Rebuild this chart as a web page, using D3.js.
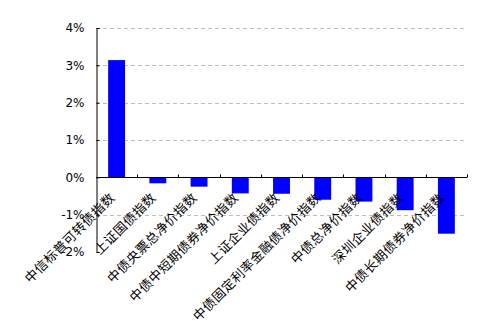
<!DOCTYPE html>
<meta charset="utf-8">
<style>
  body { margin: 0; background: #fff; }
  text { font-family: "Noto Sans CJK SC", "DejaVu Sans", sans-serif; }
</style>
<body>
<div id="chart"></div>
<script src="https://d3js.org/d3.v7.min.js"></script>
<script>
// index names and weekly returns (%)
var categories = ["中信标普可转债指数", "上证国债指数", "中债央票总净价指数", "中债中短期债券净价指数",
  "上证企业债指数", "中债固定利率金融债净价指数", "中债总净价指数", "深圳企业债指数", "中债长期债券净价指数"];
var values = [3.14, -0.16, -0.25, -0.43, -0.44, -0.6, -0.65, -0.88, -1.51];
var yTicks = [-2, -1, 0, 1, 2, 3, 4];

var W = 483, H = 321;
var plotLeft = 96, plotRight = 467, plotTop = 28, plotBottom = 252;

var svg = d3.select("#chart").append("svg")
  .attr("width", W).attr("height", H);

var x = d3.scaleBand().domain(categories).range([plotLeft, plotRight]).padding(0);
var y = d3.scaleLinear().domain([-2, 4]).range([plotBottom, plotTop]);

// dashed gridlines
svg.append("g").selectAll("line")
  .data(yTicks.filter(function (d) { return d !== 0 && d !== -2; }))
  .enter().append("line")
  .attr("x1", plotLeft).attr("x2", plotRight)
  .attr("y1", function (d) { return Math.round(y(d)) + 0.5; })
  .attr("y2", function (d) { return Math.round(y(d)) + 0.5; })
  .attr("stroke", "#bdbdbd")
  .attr("stroke-dasharray", "4,3");

// bars
var bw = x.bandwidth() * 0.41;
svg.append("g").selectAll("rect")
  .data(values)
  .enter().append("rect")
  .attr("x", function (d, i) { return x(categories[i]) + (x.bandwidth() - bw) / 2; })
  .attr("y", function (d) { return y(Math.max(0, d)); })
  .attr("width", bw)
  .attr("height", function (d) { return Math.abs(y(d) - y(0)); })
  .attr("fill", "#0000ff");

// y axis, ticks pointing inward
var yAxis = svg.append("g")
  .attr("transform", "translate(" + (plotLeft + 0.5) + ",0)")
  .call(d3.axisLeft(y).tickValues(yTicks).tickSize(-3).tickPadding(12)
    .tickFormat(function (d) { return d + "%"; }));
yAxis.select(".domain").attr("stroke", "#000");
yAxis.selectAll(".tick line").attr("stroke", "#000");
yAxis.selectAll("text").attr("font-size", 12).attr("fill", "#000")
  .style("font-family", "'DejaVu Sans', sans-serif");

// x axis at zero, ticks pointing up between categories
var y0 = Math.round(y(0)) + 0.5;
svg.append("line")
  .attr("x1", plotLeft).attr("x2", plotRight)
  .attr("y1", y0).attr("y2", y0)
  .attr("stroke", "#000");
svg.append("g").selectAll("line")
  .data(categories.slice(1).concat(["end"]))
  .enter().append("line")
  .attr("x1", function (d, i) { return Math.round(plotLeft + x.step() * (i + 1)) + 0.5; })
  .attr("x2", function (d, i) { return Math.round(plotLeft + x.step() * (i + 1)) + 0.5; })
  .attr("y1", y0).attr("y2", y0 - 3)
  .attr("stroke", "#000");

// rotated category labels
svg.append("g").selectAll("text")
  .data(categories)
  .enter().append("text")
  .attr("transform", function (d) {
    return "translate(" + (x(d) + x.bandwidth() / 2 - 1) + "," + (y0 + 21) + ") rotate(-45)";
  })
  .attr("text-anchor", "end")
  .attr("font-size", 13)
  .attr("letter-spacing", 0.4)
  .attr("fill", "#000")
  .text(function (d) { return d; });
</script>
</body>
